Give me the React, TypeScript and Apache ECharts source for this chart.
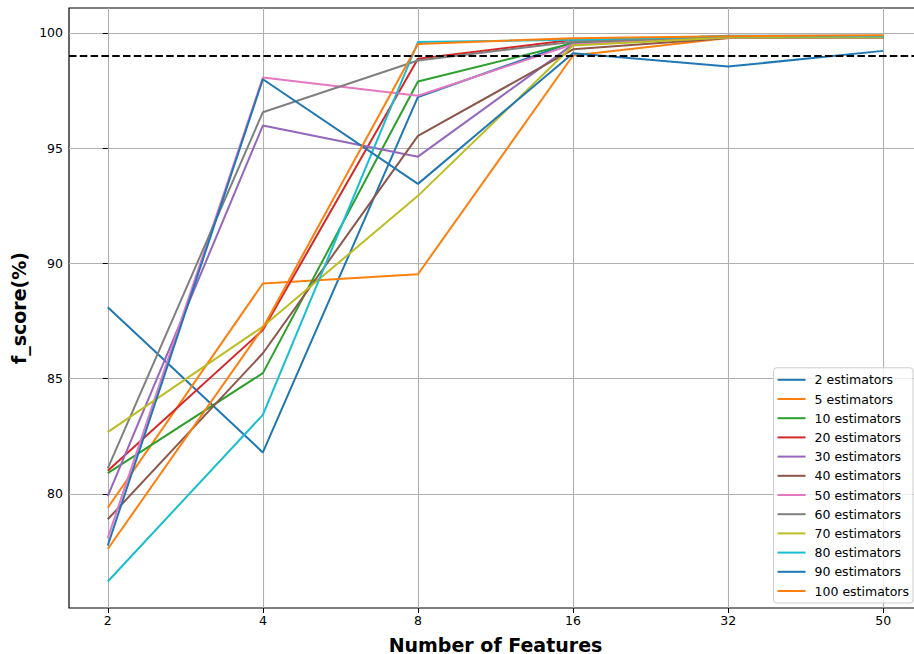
import React, { useEffect, useRef } from "react";
import * as echarts from "echarts";

// x positions: number of input features
const featureCounts = ["2", "4", "8", "16", "32", "50"];

const estimatorLabels = [
  "2 estimators",
  "5 estimators",
  "10 estimators",
  "20 estimators",
  "30 estimators",
  "40 estimators",
  "50 estimators",
  "60 estimators",
  "70 estimators",
  "80 estimators",
  "90 estimators",
  "100 estimators",
];

// f_score (%) per feature count, one array per forest size
const est2 = [88.1, 81.8, 97.22, 99.6, 99.88, 99.88];
const est5 = [79.4, 89.13, 89.53, 99.02, 99.78, 99.84];
const est10 = [80.9, 85.24, 97.89, 99.55, 99.8, 99.78];
const est20 = [81.0, 87.11, 98.88, 99.7, 99.8, 99.8];
const est30 = [79.9, 95.98, 94.63, 99.5, 99.8, 99.8];
const est40 = [78.9, 86.1, 95.53, 99.29, 99.78, 99.82];
const est50 = [78.08, 98.06, 97.27, 99.5, 99.8, 99.8];
const est60 = [81.11, 96.56, 98.8, 99.62, 99.82, 99.82];
const est70 = [82.68, 87.26, 92.93, 99.45, 99.8, 99.8];
const est80 = [76.2, 83.43, 99.6, 99.7, 99.85, 99.85];
const est90 = [77.76, 97.99, 93.45, 99.12, 98.54, 99.22];
const est100 = [77.61, 87.2, 99.52, 99.77, 99.85, 99.9];

const seriesValues = [
  est2, est5, est10, est20, est30, est40,
  est50, est60, est70, est80, est90, est100,
];

const palette = [
  "#1f77b4", "#ff7f0e", "#2ca02c", "#d62728", "#9467bd", "#8c564b",
  "#e377c2", "#7f7f7f", "#bcbd22", "#17becf", "#1f77b4", "#ff7f0e",
];

const yTicks = [80, 85, 90, 95, 100];
const threshold = 99;

const FONT = "DejaVu Sans";

export default function App() {
  const ref = useRef<HTMLDivElement>(null);

  useEffect(() => {
    if (!ref.current) return;
    const chart = echarts.init(ref.current, undefined, { renderer: "svg" });
    const xIdx = featureCounts.map((_, i) => i);

    const series: any[] = seriesValues.map((vals, k) => ({
      name: estimatorLabels[k],
      type: "line",
      data: vals.map((v, i) => [i, v]),
      symbol: "none",
      color: palette[k],
      lineStyle: { width: 2, color: palette[k] },
      z: 3,
    }));

    // horizontal reference line
    series[series.length - 1].markLine = {
      silent: true,
      symbol: ["none", "none"],
      label: { show: false },
      lineStyle: { color: "#000", width: 2, type: [7.5, 3.3] },
      data: [{ yAxis: threshold }],
    };

    chart.setOption({
      animation: false,
      backgroundColor: "#fff",
      grid: {
        left: 69,
        right: 8,
        top: 8,
        bottom: 46,
        outerBoundsMode: "none",
        containLabel: false,
        show: true,
        borderColor: "#000",
        borderWidth: 1.2,
        backgroundColor: "transparent",
      },
      xAxis: {
        type: "value",
        min: -0.25,
        max: 5.25,
        splitNumber: 5,
        name: "Number of Features",
        nameLocation: "middle",
        nameGap: 27,
        nameTextStyle: { fontSize: 19, fontWeight: "bold", color: "#000", fontFamily: FONT },
        axisLine: { show: false },
        axisTick: { show: true, customValues: xIdx, length: 5, lineStyle: { color: "#000", width: 1 } },
        axisLabel: {
          customValues: xIdx,
          formatter: (v: number) => featureCounts[Math.round(v)] ?? "",
          fontSize: 12.5,
          color: "#000",
          fontFamily: FONT,
          margin: 6,
        },
        splitLine: { show: true, lineStyle: { color: "#b0b0b0", width: 1.1 } },
      },
      yAxis: {
        type: "value",
        min: 75.05,
        max: 101.08,
        splitNumber: 5,
        name: "f_score(%)",
        nameLocation: "middle",
        nameGap: 38,
        nameTextStyle: { fontSize: 19, fontWeight: "bold", color: "#000", fontFamily: FONT },
        axisLine: { show: false },
        axisTick: { show: true, customValues: yTicks, length: 5, lineStyle: { color: "#000", width: 1 } },
        axisLabel: {
          customValues: yTicks,
          fontSize: 12.5,
          color: "#000",
          fontFamily: FONT,
          margin: 6,
        },
        splitLine: { show: true, lineStyle: { color: "#b0b0b0", width: 1.1 } },
      },
      legend: {
        data: estimatorLabels,
        orient: "vertical",
        right: 17,
        bottom: 51,
        icon: "rect",
        itemWidth: 28,
        itemHeight: 2,
        itemGap: 3.2,
        padding: [4, 4, 4, 4],
        backgroundColor: "rgba(255,255,255,0.8)",
        borderColor: "#cccccc",
        borderWidth: 1,
        borderRadius: 3,
        textStyle: {
          fontSize: 12.5,
          lineHeight: 16,
          color: "#000",
          fontFamily: FONT,
          padding: [0, 0, 0, 4],
        },
      },
      series,
    });

    return () => chart.dispose();
  }, []);

  return (
    <div
      ref={ref}
      style={{ position: "fixed", left: 0, top: 0, width: 930, height: 654 }}
    />
  );
}
